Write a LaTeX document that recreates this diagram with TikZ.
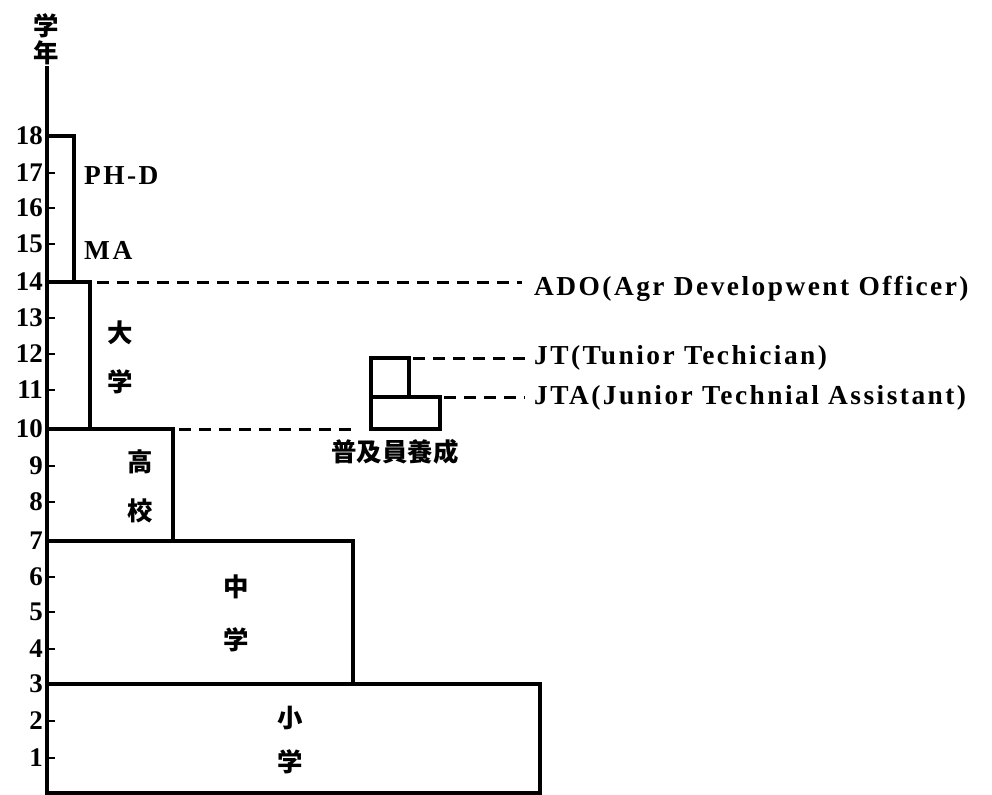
\documentclass[tikz,border=0pt]{standalone}
\usepackage{fontspec}
\newfontfamily\labf{Liberation Serif}[LetterSpace=9]
\newfontfamily\numf{Liberation Serif}
\newfontfamily\cjk{Noto Sans CJK JP}
\begin{document}
\begin{tikzpicture}[x=1bp,y=-1bp,
  boxline/.style={line width=3.2bp, line join=miter, line cap=rect},
  dashline/.style={line width=3bp, dash pattern=on 12bp off 8bp},
  num/.style={font=\fontsize{27}{27}\selectfont\numf\bfseries, inner sep=0pt, anchor=east},
  lab/.style={font=\fontsize{27.5}{27.5}\selectfont\labf\bfseries, inner sep=0pt, anchor=west},
  kan/.style={font=\fontsize{25.5}{25.5}\selectfont\cjk\bfseries, inner sep=0pt}]
\useasboundingbox (0,0) rectangle (992,795);
% axis
\coordinate (axtop) at (47,68);
\coordinate (axbot) at (47,793);
\draw[boxline] (axtop) -- (axbot);
\node[kan] (gaku) at (46,26) {学};
\node[kan] (nen) at (46,53) {年};
% ticks
\foreach \n/\y in {18/136,17/173,16/208,15/244,14/282,13/318,12/354,11/390,10/429,9/466,8/502,7/541,6/577,5/612,4/649,3/684,2/721,1/758}{
  \node[num] (t\n) at (43,\y) {\n};
  \draw[line width=2.8bp] (47,\y) -- (55,\y);
}
% boxes
\draw[boxline] (47,136) -- (74,136) -- (74,282);
\draw[boxline] (47,282) -- (90,282) -- (90,429);
\draw[boxline] (47,429) -- (173,429) -- (173,541);
\draw[boxline] (47,541) -- (353,541) -- (353,684);
\draw[boxline] (47,684) -- (540,684) -- (540,793) -- (47,793);
% extension boxes
\draw[boxline] (371,429) rectangle (440,397);
\draw[boxline] (371,397) rectangle (409,358);
% labels inside
\node[lab] (phd) at (84,176) {PH-D};
\node[lab] (ma) at (84,250) {MA};
\node[kan] (dai) at (120,333) {大};
\node[kan] (gaku2) at (120,382) {学};
\node[kan] (ko) at (140,462) {高};
\node[kan] (kou) at (140,511) {校};
\node[kan] (chu) at (236,587) {中};
\node[kan] (gaku3) at (236,640) {学};
\node[kan] (sho) at (290,718) {小};
\node[kan] (gaku4) at (290,762) {学};
\node[kan] (fukyu) at (395,452) {普及員養成};
% right labels
\node[lab] (ado) at (534,289) {ADO(Agr Developwent Officer)};
\node[lab] (jt) at (534,358) {JT(Tunior Techician)};
\node[lab] (jta) at (534,398) {JTA(Junior Technial Assistant)};
% dashed connectors
\coordinate (s14) at (97,282);
\coordinate (e14) at (522,282);
\draw[dashline] (s14) -- (e14);
\coordinate (s10) at (179,429);
\coordinate (e10) at (357,429);
\draw[dashline] (s10) -- (e10);
\coordinate (sjt) at (413,358);
\coordinate (ejt) at (525,358);
\draw[dashline] (sjt) -- (ejt);
\coordinate (sjta) at (444,397);
\coordinate (ejta) at (525,397);
\draw[dashline] (sjta) -- (ejta);
\end{tikzpicture}
\end{document}
